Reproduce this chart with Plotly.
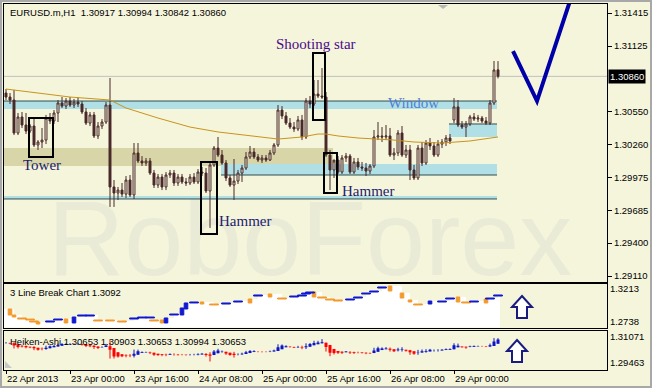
import plotly.graph_objects as go

W, H = 652, 388
BG = "#f5f5dc"
CANDLE = "#4a2a2a"
FONT = "Liberation Sans"

# ---------------- data ----------------
x_tick_bars = [0, 16, 32, 48, 64, 80, 96, 112]
x_tick_labels = ["22 Apr 2013", "23 Apr 00:00", "23 Apr 16:00", "24 Apr 08:00",
                 "25 Apr 00:00", "25 Apr 16:00", "26 Apr 08:00", "29 Apr 00:00"]
price_ticks = [1.31415, 1.31125, 1.30550, 1.30260, 1.29975, 1.29685, 1.29400, 1.29110]
last_price = 1.30860

opens = [1.30714,1.30679,1.30653,1.30364,1.30504,1.30434,1.30381,1.30425,1.30259,1.30285,
1.30302,1.30495,1.30469,1.30539,1.30627,1.30600,1.30644,1.30609,1.30635,1.30618,
1.30548,1.30451,1.30522,1.30338,1.30425,1.30460,1.30609,1.29891,1.29838,1.29864,
1.29829,1.29952,1.29821,1.30189,1.30119,1.30101,1.30119,1.30013,1.29908,1.29978,
1.29891,1.29996,1.30013,1.29926,1.29978,1.29935,1.29926,1.29978,1.29935,1.30022,
1.30013,1.29856,1.30084,1.30232,1.30171,1.30101,1.29970,1.29908,1.29943,1.30013,
1.30057,1.30154,1.30197,1.30154,1.30127,1.30145,1.30127,1.30189,1.30259,1.30565,
1.30513,1.30451,1.30416,1.30399,1.30478,1.30329,1.30644,1.30618,1.30705,1.30688,
1.30679,1.30171,1.30040,1.30127,1.30022,1.30145,1.30162,1.30022,1.30110,1.30066,
1.30057,1.30031,1.30075,1.30329,1.30338,1.30329,1.30338,1.30171,1.30189,1.30364,
1.30171,1.30215,1.30040,1.29970,1.30232,1.30101,1.30276,1.30250,1.30171,1.30267,
1.30285,1.30320,1.30478,1.30592,1.30434,1.30416,1.30443,1.30504,1.30486,1.30495,
1.30469,1.30451,1.30627,1.30917]
highs = [1.30749,1.30714,1.30741,1.30539,1.30548,1.30539,1.30443,1.30495,1.30302,1.30408,
1.30522,1.30539,1.30565,1.30653,1.30679,1.30670,1.30679,1.30662,1.30679,1.30644,
1.30583,1.30548,1.30548,1.30460,1.30486,1.30635,1.30846,1.29952,1.29891,1.29926,
1.29987,1.29996,1.30276,1.30276,1.30162,1.30145,1.30145,1.30040,1.30005,1.30005,
1.30022,1.30040,1.30040,1.30005,1.30005,1.29970,1.30005,1.30013,1.30048,1.30066,
1.30057,1.30110,1.30250,1.30329,1.30215,1.30127,1.29996,1.30136,1.30040,1.30084,
1.30197,1.30250,1.30232,1.30180,1.30171,1.30171,1.30215,1.30276,1.30609,1.30600,
1.30548,1.30495,1.30460,1.30513,1.30522,1.30670,1.30688,1.30828,1.30828,1.30933,
1.30723,1.30215,1.30101,1.30162,1.30171,1.30189,1.30180,1.30145,1.30145,1.30110,
1.30101,1.30092,1.30390,1.30460,1.30416,1.30434,1.30408,1.30232,1.30390,1.30425,
1.30259,1.30259,1.30084,1.30259,1.30285,1.30302,1.30320,1.30285,1.30302,1.30311,
1.30346,1.30355,1.30670,1.30653,1.30469,1.30469,1.30522,1.30539,1.30522,1.30513,
1.30504,1.30653,1.30995,1.30994]
lows = [1.30653,1.30618,1.30346,1.30346,1.30408,1.30355,1.30364,1.30241,1.30215,1.30232,
1.30267,1.30443,1.30443,1.30460,1.30583,1.30574,1.30592,1.30583,1.30592,1.30530,
1.30434,1.30425,1.30320,1.30311,1.30399,1.30443,1.29716,1.29716,1.29777,1.29803,
1.29794,1.29803,1.29786,1.30101,1.30075,1.30075,1.29996,1.29882,1.29882,1.29864,
1.29864,1.29970,1.29900,1.29900,1.29917,1.29900,1.29908,1.29917,1.29917,1.29987,
1.29838,1.29532,1.30066,1.30154,1.30084,1.29943,1.29891,1.29777,1.29917,1.29935,
1.30040,1.30136,1.30136,1.30110,1.30101,1.30110,1.30119,1.30171,1.30241,1.30486,
1.30434,1.30399,1.30373,1.30381,1.30302,1.30311,1.30583,1.30600,1.30670,1.30662,
1.30154,1.29864,1.29970,1.30005,1.30005,1.30110,1.30005,1.30005,1.30040,1.30031,
1.29987,1.30005,1.30057,1.30302,1.30285,1.30302,1.30154,1.30127,1.30162,1.30154,
1.30145,1.29952,1.29952,1.29952,1.30075,1.30084,1.30215,1.30154,1.30154,1.30232,
1.30250,1.30267,1.30451,1.30416,1.30399,1.30329,1.30425,1.30469,1.30460,1.30451,
1.30434,1.30434,1.30609,1.30842]
closes = [1.30679,1.30653,1.30364,1.30504,1.30434,1.30381,1.30425,1.30259,1.30285,1.30302,
1.30495,1.30469,1.30539,1.30627,1.30600,1.30644,1.30609,1.30635,1.30618,1.30548,
1.30451,1.30522,1.30338,1.30425,1.30460,1.30609,1.29891,1.29838,1.29864,1.29829,
1.29952,1.29821,1.30189,1.30119,1.30101,1.30119,1.30013,1.29908,1.29978,1.29891,
1.29996,1.30013,1.29926,1.29978,1.29935,1.29926,1.29978,1.29935,1.30022,1.30013,
1.29856,1.30084,1.30232,1.30171,1.30101,1.29970,1.29908,1.29943,1.30013,1.30057,
1.30154,1.30197,1.30154,1.30127,1.30145,1.30127,1.30189,1.30259,1.30565,1.30513,
1.30451,1.30416,1.30399,1.30478,1.30329,1.30644,1.30618,1.30705,1.30688,1.30679,
1.30171,1.30040,1.30127,1.30022,1.30145,1.30162,1.30022,1.30110,1.30066,1.30057,
1.30031,1.30075,1.30329,1.30338,1.30329,1.30338,1.30171,1.30189,1.30364,1.30171,
1.30215,1.30040,1.29970,1.30232,1.30101,1.30276,1.30250,1.30171,1.30267,1.30285,
1.30320,1.30294,1.30592,1.30434,1.30416,1.30443,1.30504,1.30486,1.30495,1.30469,
1.30451,1.30627,1.30916,1.30860]
bars = list(range(len(closes)))

ma_bars = [0, 8, 16, 26, 30, 38, 46, 53, 62, 68, 74, 78, 80, 83, 88, 93, 97, 102, 109, 116, 121, 123]
ma_vals = [1.30749, 1.30714, 1.30679, 1.30653, 1.30583, 1.30495, 1.30416, 1.30373, 1.30338,
           1.30311, 1.30329, 1.30355, 1.30355, 1.30338, 1.30320, 1.30311, 1.30302, 1.30285,
           1.30276, 1.30294, 1.30320, 1.30329]

# 3 Line Break
lb_bars = [1,2,4,6,7,8,11,13,15,17,19,21,23,26,29,32,34,36,37,39,40,42,44,45,47,49,52,55,58,61,
           63,66,69,72,74,75,76,77,79,81,83,86,88,90,92,94,96,99,101,103,106,109,111,113,115,117,120,121,123]
lb_lo = [1.2839,1.2810,1.2781,1.2767,1.2738,1.2709,1.2738,1.2767,1.2724,1.2724,1.2824,1.2824,1.2753,
         1.2753,1.2738,1.2781,1.2796,1.2796,1.2753,1.2724,1.2724,1.2839,1.2839,1.2925,1.3012,1.2997,
         1.2983,1.2997,1.3026,1.3012,1.3112,1.3098,1.3069,1.3098,1.3112,1.3141,1.3155,1.3098,1.3083,
         1.3055,1.3040,1.3055,1.3083,1.3141,1.3170,1.3227,1.3184,1.3083,1.3026,1.2983,1.2997,1.3026,
         1.3069,1.3026,1.3012,1.3026,1.3012,1.3069,1.3112]
lb_hi = [1.2925,1.2839,1.2796,1.2781,1.2753,1.2738,1.2753,1.2781,1.2781,1.2810,1.2839,1.2839,1.2767,
         1.2767,1.2753,1.2796,1.2810,1.2810,1.2767,1.2767,1.2796,1.2853,1.2940,1.3012,1.3026,1.3026,
         1.2997,1.3012,1.3040,1.3069,1.3127,1.3141,1.3083,1.3112,1.3127,1.3155,1.3170,1.3170,1.3098,
         1.3069,1.3055,1.3069,1.3098,1.3155,1.3184,1.3242,1.3256,1.3155,1.3055,1.2997,1.3040,1.3040,
         1.3083,1.3098,1.3026,1.3040,1.3069,1.3083,1.3127]
lb_dir = ["d","d","d","d","d","d","u","u","d","u","u","u","d","d","d","u","u","u","d","d","u","u","u",
          "u","u","d","d","u","u","d","u","d","d","u","u","u","u","d","d","d","d","u","u","u","u","u",
          "d","d","d","d","u","u","u","d","d","u","d","u","u"]
lb_ticks = [1.3213, 1.2738]
ha_ticks = [1.31071, 1.29463]

# price zones
zone_from = [-0.5, -0.5, 53.75, -0.5, 110.75]
zone_to = [122.75, 81.75, 122.75, 122.75, 122.75]
zone_top = [1.30644, 1.30232, 1.30092, 1.29812, 1.30443]
zone_bottom = [1.30574, 1.30075, 1.29996, 1.29786, 1.30329]
zone_edge = ["top", "none", "bottom", "bottom", "top"]
zone_kind = ["blue", "tan", "blue", "blue", "blue"]

# pattern boxes
box_from = [5.75, 48.75, 76.75, 79.5]
box_to = [11.75, 52.75, 79.75, 82.75]
box_top = [1.30495, 1.30110, 1.31064, 1.30189]
box_bottom = [1.30154, 1.29479, 1.30478, 1.29838]

label_text = ["Tower", "Hammer", "Shooting star", "Hammer", "Window"]
label_bar = [9, 59.75, 77.5, 90.5, 101.75]
label_price = [1.30084, 1.29593, 1.31143, 1.29856, 1.30627]
label_color = ["#1c1c6e", "#1c1c6e", "#4b0a8a", "#1c1c6e", "#4d7fd6"]

check_bars = [126.75, 132.75, 142.0]
check_prices = [1.31082, 1.30644, 1.31627]

# ---------------- helpers ----------------
def px(x):
    return x / W

def py(y):
    return 1 - y / H

# Heiken-Ashi from the candles
ha_c = [(o + h + l + c) / 4 for o, h, l, c in zip(opens, highs, lows, closes)]
ha_o = [(opens[0] + closes[0]) / 2]
for i in range(1, len(closes)):
    ha_o.append((ha_o[i - 1] + ha_c[i - 1]) / 2)
ha_h = [max(h, o, c) for h, o, c in zip(highs, ha_o, ha_c)]
ha_l = [min(l, o, c) for l, o, c in zip(lows, ha_o, ha_c)]

fig = go.Figure()

# 3LB white fill
fx = [-0.5] + lb_bars + [123.5]
fy = [lb_hi[0]] + lb_hi + [lb_hi[-1]]
fig.add_trace(go.Scatter(x=fx, y=fy, mode="lines", line=dict(width=0, shape="hv"),
                         fill="tozeroy", fillcolor="#ffffff", xaxis="x2", yaxis="y2",
                         hoverinfo="skip", showlegend=False))
# 3LB bricks as filled polygons (drawn above the fill)
for col, key in (("#f39a2c", "d"), ("#1018d0", "u")):
    xs, ys = [], []
    for b, lo, hi, d in zip(lb_bars, lb_lo, lb_hi, lb_dir):
        if d != key:
            continue
        w = 0.45 if (hi - lo) > 0.0025 else 1.1
        xs += [b - w, b + w, b + w, b - w, b - w, None]
        ys += [lo, lo, hi, hi, lo, None]
    fig.add_trace(go.Scatter(x=xs, y=ys, mode="lines", fill="toself", fillcolor=col,
                             line=dict(color=col, width=1), xaxis="x2", yaxis="y2",
                             hoverinfo="skip", showlegend=False))

# Heiken-Ashi
for col, bull in (("#ff0000", False), ("#0a14c8", True)):
    wx, wy, bx, by = [], [], [], []
    for i in bars:
        if (ha_c[i] >= ha_o[i]) != bull:
            continue
        wx += [i, i, None]
        wy += [ha_l[i], ha_h[i], None]
        bx += [i, i, None]
        by += [ha_o[i], ha_c[i], None]
    fig.add_trace(go.Scatter(x=wx, y=wy, mode="lines", line=dict(color=col, width=1),
                             xaxis="x3", yaxis="y3", hoverinfo="skip", showlegend=False))
    fig.add_trace(go.Scatter(x=bx, y=by, mode="lines", line=dict(color=col, width=3),
                             xaxis="x3", yaxis="y3", hoverinfo="skip", showlegend=False))

# MA
fig.add_trace(go.Scatter(x=ma_bars, y=ma_vals, mode="lines", line=dict(color="#c8941a", width=1),
                         xaxis="x", yaxis="y", hoverinfo="skip", showlegend=False))
# candles
fig.add_trace(go.Candlestick(x=bars, open=opens, high=highs, low=lows, close=closes,
                             increasing=dict(line=dict(color=CANDLE, width=1), fillcolor=BG),
                             decreasing=dict(line=dict(color=CANDLE, width=1), fillcolor=CANDLE),
                             whiskerwidth=0, xaxis="x", yaxis="y", hoverinfo="skip", showlegend=False))

shapes = []
# watermark behind everything
shapes.append(dict(type="rect", xref="paper", yref="paper", x0=px(40), x1=px(580), y0=py(290), y1=py(165),
                   line=dict(width=0), fillcolor="rgba(0,0,0,0)", layer="below",
                   label=dict(text="RoboForex", textposition="middle center",
                              font=dict(family="Liberation Sans", size=106, color="#e9ebd6"))))
for f, t, top, bot, edge, kind in zip(zone_from, zone_to, zone_top, zone_bottom, zone_edge, zone_kind):
    shapes.append(dict(type="rect", xref="x", yref="y", x0=f, x1=t, y0=bot, y1=top,
                       fillcolor="#b0dfe6" if kind == "blue" else "#d8d6a8",
                       line=dict(width=0), layer="below"))
for f, t, top, bot, edge in zip(zone_from, zone_to, zone_top, zone_bottom, zone_edge):
    if edge != "none":
        yv = top if edge == "top" else bot
        shapes.append(dict(type="line", xref="x", yref="y", x0=f, x1=t, y0=yv, y1=yv,
                           line=dict(color="#2f4f4f", width=1), layer="below"))
shapes.append(dict(type="line", xref="paper", yref="y", x0=px(4), x1=px(607), y0=last_price,
                   y1=last_price, line=dict(color="#c0c0c0", width=1), layer="below"))
for f, t, top, bot in zip(box_from, box_to, box_top, box_bottom):
    shapes.append(dict(type="rect", xref="x", yref="y", x0=f, x1=t, y0=bot, y1=top,
                       line=dict(color="#000000", width=2), fillcolor="rgba(0,0,0,0)"))
chk = "M " + " L ".join(f"{b},{p}" for b, p in zip(check_bars, check_prices))
shapes.append(dict(type="path", xref="x", yref="y", path=chk, line=dict(color="#0000a8", width=4)))

# up arrows in the indicator panes
def arrow(cx, top):
    pts = [(cx, top), (cx + 10, top + 11), (cx + 5, top + 11), (cx + 5, top + 22),
           (cx - 5, top + 22), (cx - 5, top + 11), (cx - 10, top + 11)]
    return "M " + " L ".join(f"{px(a):.5f},{py(b):.5f}" for a, b in pts) + " Z"

for cx, top in ((522, 296), (517, 340)):
    shapes.append(dict(type="path", xref="paper", yref="paper", path=arrow(cx, top),
                       line=dict(color="#1a1a80", width=2), fillcolor="#ffffff"))
# small grey markers
shapes.append(dict(type="path", xref="paper", yref="paper",
                   path=f"M {px(438)},{py(5)} L {px(448)},{py(5)} L {px(443)},{py(9)} Z",
                   fillcolor="#b8b8b8", line=dict(width=0)))
shapes.append(dict(type="path", xref="paper", yref="paper",
                   path=f"M {px(5)},{py(361)} L {px(5)},{py(368)} L {px(12)},{py(368)} Z",
                   fillcolor="#c8c8c8", line=dict(width=0)))
# outer frame
shapes.append(dict(type="rect", xref="paper", yref="paper", x0=px(1), x1=px(651), y0=py(387), y1=py(1),
                   line=dict(color="#a8a8a8", width=2), fillcolor="rgba(0,0,0,0)"))

ann = []
for t, b, p, c in zip(label_text, label_bar, label_price, label_color):
    ann.append(dict(text=t, xref="x", yref="y", x=b, y=p, showarrow=False,
                    font=dict(family="Liberation Serif", size=15, color=c)))
ann.append(dict(text="EURUSD.m,H1\u00a0\u00a01.30917 1.30994 1.30842 1.30860", xref="paper", yref="paper",
                x=px(8), y=py(12), xanchor="left", yanchor="middle", showarrow=False,
                font=dict(family=FONT, size=9.5, color="#000000")))
ann.append(dict(text="3 Line Break Chart 1.3092", xref="paper", yref="paper",
                x=px(8), y=py(292), xanchor="left", yanchor="middle", showarrow=False,
                font=dict(family=FONT, size=9.5, color="#000000")))
ann.append(dict(text="Heiken-Ashi 1.30653 1.30903 1.30653 1.30994 1.30653", xref="paper", yref="paper",
                x=px(8), y=py(341), xanchor="left", yanchor="middle", showarrow=False,
                font=dict(family=FONT, size=9.5, color="#000000")))
ann.append(dict(text=f"{last_price:.5f}", xref="paper", yref="y", x=px(608), y=last_price,
                xanchor="left", yanchor="middle", showarrow=False, bgcolor="#000000", borderpad=1,
                font=dict(family=FONT, size=9.5, color="#ffffff")))

dom_x = [px(4), px(607)]
xr = [-0.5, 150.25]
common_x = dict(domain=dom_x, range=xr, showgrid=False, zeroline=False, showline=True, mirror=True,
                linecolor="#000000", linewidth=1, fixedrange=True)
common_y = dict(side="right", showgrid=False, zeroline=False, showline=True, mirror=True,
                linecolor="#000000", linewidth=1, tickfont=dict(family=FONT, size=9.5, color="#000000"))

fig.update_layout(
    width=W, height=H, autosize=False, margin=dict(l=0, r=0, t=0, b=0),
    paper_bgcolor=BG, plot_bgcolor=BG, showlegend=False, hovermode=False,
    font=dict(family=FONT, size=9.5, color="#000000"),
    xaxis=dict(common_x, anchor="y", showticklabels=False, ticks="", rangeslider=dict(visible=False)),
    xaxis2=dict(common_x, anchor="y2", matches="x", showticklabels=False, ticks=""),
    xaxis3=dict(common_x, anchor="y3", matches="x", tickvals=x_tick_bars, ticktext=x_tick_labels,
                ticks="outside", ticklen=3, tickcolor="#000000", ticklabelposition="outside right",
                tickfont=dict(family=FONT, size=9.5, color="#000000")),
    yaxis=dict(common_y, anchor="x", domain=[py(281.5), py(4)], range=[1.29063, 1.31494],
               tickvals=price_ticks, ticktext=[f"{v:.5f}" for v in price_ticks],
               ticks="outside", ticklen=4, tickcolor="#000000"),
    yaxis2=dict(common_y, anchor="x2", domain=[py(327.5), py(283.5)], range=[1.26590, 1.32921],
                tickvals=lb_ticks, ticktext=[f"{v:.4f}" for v in lb_ticks], ticks=""),
    yaxis3=dict(common_y, anchor="x3", domain=[py(369.5), py(330.5)], range=[1.29030, 1.31473],
                tickvals=ha_ticks, ticktext=[f"{v:.5f}" for v in ha_ticks], ticks=""),
    shapes=shapes, annotations=ann,
)

fig.write_html("out.html")
